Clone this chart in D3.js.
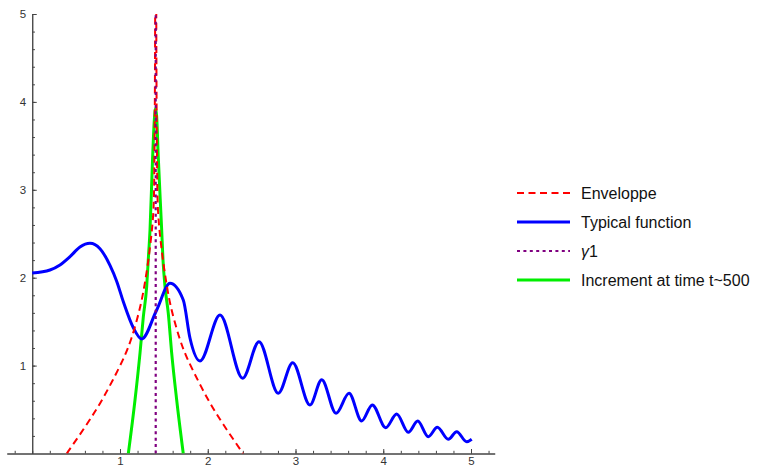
<!DOCTYPE html>
<html>
<head>
<meta charset="utf-8">
<script src="https://cdn.jsdelivr.net/npm/d3@7"></script>
<style>
  body { margin: 0; background: #fff; }
  text { font-family: "Liberation Sans", Arial, sans-serif; }
</style>
</head>
<body>
<div id="chart"></div>
<script>
var svgWidth = 762;
var svgHeight = 468;

// values
var gamma1 = 1.407;

var envLeftX = [0.393, 0.620, 0.772, 0.920, 1.057, 1.133, 1.228, 1.285, 1.342, 1.380, 1.393, 1.399, 1.401];
var envLeftY = [0, 0.33, 0.57, 0.84, 1.12, 1.32, 1.66, 1.95, 2.35, 2.75, 3.45, 4.48, 5.16];
var envRightX = [1.413, 1.415, 1.421, 1.434, 1.471, 1.527, 1.582, 1.676, 1.750, 1.884, 2.029, 2.178, 2.402];
var envRightY = [5.16, 4.48, 3.45, 2.75, 2.35, 1.95, 1.66, 1.32, 1.12, 0.84, 0.57, 0.33, 0];

var typX = [0, 0.202, 0.316, 0.430, 0.544, 0.658, 0.772, 0.886, 0.962, 1.040, 1.152, 1.247, 1.418, 1.570, 1.721, 1.798,
  1.912, 2.140, 2.398, 2.584, 2.804, 2.968, 3.165, 3.299, 3.462, 3.610, 3.754, 3.875, 4.028, 4.153,
  4.285, 4.393, 4.513, 4.616, 4.741, 4.837, 4.951, 5.008];
var typY = [2.053, 2.088, 2.145, 2.239, 2.35, 2.391, 2.33, 2.14, 1.96, 1.72, 1.43, 1.303, 1.633, 1.936, 1.746, 1.311,
  1.052, 1.576, 0.856, 1.272, 0.685, 1.033, 0.552, 0.840, 0.457, 0.685, 0.370, 0.552, 0.294, 0.449,
  0.241, 0.370, 0.191, 0.298, 0.162, 0.248, 0.134, 0.162];

var incX = [1.095, 1.171, 1.228, 1.266, 1.304, 1.322, 1.342, 1.372, 1.391, 1.401, 1.407,
  1.418, 1.436, 1.475, 1.490, 1.513, 1.550, 1.589, 1.646, 1.721];
var incY = [0, 0.609, 1.143, 1.556, 1.898, 2.201, 2.543, 3.377, 3.794, 3.908, 3.925,
  3.832, 3.377, 2.543, 2.201, 1.898, 1.598, 1.143, 0.609, 0];

var xMajor = [1, 2, 3, 4, 5];
var yMajor = [1, 2, 3, 4, 5];

var legendNames = ["Enveloppe", "Typical function", "γ1", "Increment at time t~500"];
var legendColors = ["#ff0000", "#0000ff", "#800080", "#00ee00"];

var svg = d3.select("#chart")
  .append("svg")
  .attr("width", svgWidth)
  .attr("height", svgHeight);

var xScale = d3.scaleLinear()
  .domain([-0.29, 5.27])
  .range([6.8, 494.7]);

var yScale = d3.scaleLinear()
  .domain([0, 5])
  .range([453.5, 14]);

function pts(xs, ys) {
  return xs.map(function(x, i) { return [x, ys[i]]; });
}

var line = d3.line()
  .x(d => xScale(d[0]))
  .y(d => yScale(d[1]))
  .curve(d3.curveMonotoneX);

var smoothLine = d3.line()
  .x(d => xScale(d[0]))
  .y(d => yScale(d[1]))
  .curve(d3.curveCatmullRom.alpha(0.5));

// clip to the plot range
svg.append("clipPath")
  .attr("id", "clip")
  .append("rect")
  .attr("x", xScale(-0.29))
  .attr("y", yScale(5))
  .attr("width", xScale(5.27) - xScale(-0.29))
  .attr("height", yScale(0) - yScale(5));

// axes (ticks point inward like Mathematica)
var minorX = d3.range(-0.2, 5.21, 0.2);
var minorY = d3.range(0.2, 5.01, 0.2);

var axisColor = "#444";

var xMinor = svg.append("g")
  .attr("transform", `translate(0, ${yScale(0)})`)
  .call(d3.axisBottom(xScale).tickValues(minorX).tickSize(-2.7).tickSizeOuter(0).tickFormat(""));

var xAx = svg.append("g")
  .attr("transform", `translate(0, ${yScale(0)})`)
  .call(d3.axisBottom(xScale).tickValues(xMajor).tickSize(-4.5).tickSizeOuter(0).tickPadding(3.5).tickFormat(d3.format("d")));

var yMinor = svg.append("g")
  .attr("transform", `translate(${xScale(0)}, 0)`)
  .call(d3.axisLeft(yScale).tickValues(minorY).tickSize(-2.7).tickSizeOuter(0).tickFormat(""));

var yAx = svg.append("g")
  .attr("transform", `translate(${xScale(0)}, 0)`)
  .call(d3.axisLeft(yScale).tickValues(yMajor).tickSize(-4.5).tickSizeOuter(0).tickPadding(6).tickFormat(d3.format("d")));

[xMinor, xAx, yMinor, yAx].forEach(function(g) {
  g.selectAll("path, line").attr("stroke", axisColor);
  g.selectAll("text").attr("fill", "#333").style("font-size", "11.5px")
    .style("font-family", "'Liberation Sans', Arial, sans-serif");
});

var plot = svg.append("g").attr("clip-path", "url(#clip)");

// green increment
plot.append("path")
  .datum(pts(incX, incY))
  .attr("d", line)
  .attr("fill", "none")
  .attr("stroke", legendColors[3])
  .attr("stroke-width", 3);

// blue typical function
plot.append("path")
  .datum(pts(typX, typY))
  .attr("d", line)
  .attr("fill", "none")
  .attr("stroke", legendColors[1])
  .attr("stroke-width", 3)
  .attr("stroke-linejoin", "round");

// red envelope, two branches
[pts(envLeftX, envLeftY), pts(envRightX, envRightY)].forEach(function(branch) {
  plot.append("path")
    .datum(branch)
    .attr("d", smoothLine)
    .attr("fill", "none")
    .attr("stroke", legendColors[0])
    .attr("stroke-width", 2)
    .attr("stroke-dasharray", "7,4.5");
});

// gamma1 vertical line
plot.append("line")
  .attr("x1", xScale(gamma1))
  .attr("x2", xScale(gamma1))
  .attr("y1", yScale(0))
  .attr("y2", yScale(5))
  .attr("stroke", legendColors[2])
  .attr("stroke-width", 2.2)
  .attr("stroke-dasharray", "3,3.4");

// legend
var dashes = ["7,4.5", null, "3,3.4", null];
var widths = [2, 3, 2.2, 3];

var legend = svg.append("g").attr("transform", "translate(517, 193)");

legendNames.forEach(function(name, i) {
  var row = legend.append("g").attr("transform", `translate(0, ${i * 29})`);
  row.append("line")
    .attr("x1", 0).attr("x2", 53)
    .attr("stroke", legendColors[i])
    .attr("stroke-width", widths[i])
    .attr("stroke-dasharray", dashes[i]);
  var t = row.append("text")
    .attr("x", 64)
    .attr("dy", "0.35em")
    .style("font-size", "16px")
    .attr("fill", "#111");
  if (i === 2) {
    t.append("tspan").style("font-style", "italic").text("γ");
    t.append("tspan").text("1");
  } else {
    t.text(name);
  }
});
</script>
</body>
</html>
